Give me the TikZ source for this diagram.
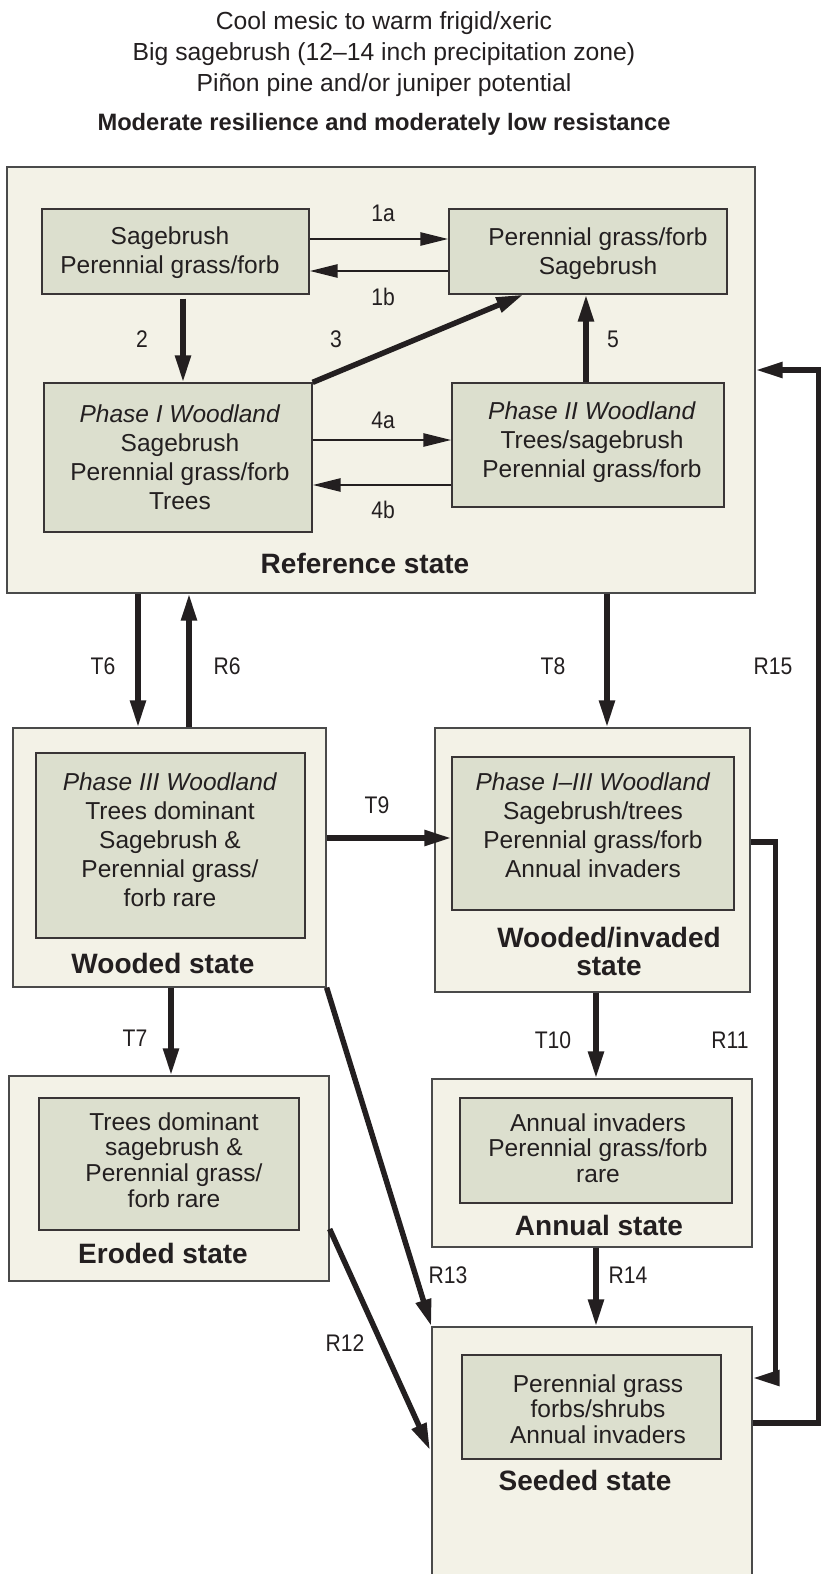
\documentclass[tikz,border=0pt]{standalone}
\usepackage{fontspec}
\setmainfont{Liberation Sans}
\newfontfamily\lblfont{Liberation Sans}[FakeStretch=0.88]
\usetikzlibrary{arrows.meta}
\definecolor{outerfill}{HTML}{F3F2E7}
\definecolor{innerfill}{HTML}{DCDFCE}
\definecolor{ink}{HTML}{231F20}
\definecolor{edge}{HTML}{4A4A4A}
\begin{document}
\begin{tikzpicture}[x=1pt,y=-1pt,
  outerbox/.style={draw=edge, line width=1.3pt, fill=outerfill, inner sep=0pt, rectangle},
  innerbox/.style={draw=ink!90, line width=1.3pt, fill=innerfill, inner sep=0pt, rectangle},
  txt/.style={align=center, inner sep=0pt, text=ink, font=\fontsize{24.5}{29}\selectfont},
  txtb/.style={align=center, inner sep=0pt, text=ink, font=\fontsize{24.5}{25.6}\selectfont},
  statelbl/.style={align=center, inner sep=0pt, text=ink, font=\fontsize{28}{28}\bfseries\selectfont},
  lbl/.style={inner sep=0pt, text=ink, font=\lblfont\fontsize{24}{26}\selectfont},
  ttl/.style={inner sep=0pt, text=ink, anchor=base, font=\fontsize{24.7}{31}\selectfont},
  thickarr/.style={line width=5.5pt, draw=ink, -{Triangle[length=27pt,width=15pt]}},
  thinarr/.style={line width=2.6pt, draw=ink, -{Triangle[length=28pt,width=13pt]}},
]
\useasboundingbox (0,0) rectangle (823,1574);

% title
\node[ttl] (t1) at (384,29) {Cool mesic to warm frigid/xeric};
\node[ttl] (t2) at (384,60) {Big sagebrush (12–14 inch precipitation zone)};
\node[ttl] (t3) at (384,91) {Piñon pine and/or juniper potential};
\node[ttl, font=\fontsize{23.7}{31}\bfseries\selectfont] (t4) at (384,130) {Moderate resilience and moderately low resistance};

% outer state boxes
\node[outerbox, minimum width=748pt, minimum height=426pt] (ref) at (381,380) {};
\node[outerbox, minimum width=313pt, minimum height=259pt] (wood) at (169.5,857.5) {};
\node[outerbox, minimum width=315pt, minimum height=264pt] (winv) at (592.5,860) {};
\node[outerbox, minimum width=320pt, minimum height=205pt] (eroded) at (169,1178.5) {};
\node[outerbox, minimum width=320pt, minimum height=168pt] (annual) at (592,1163) {};
\node[outerbox, minimum width=320pt, minimum height=263pt] (seeded) at (592,1458.5) {};

% inner phase boxes
\node[innerbox, minimum width=267pt, minimum height=85pt] (A) at (175.5,251.5) {};
\node[innerbox, minimum width=278pt, minimum height=85pt] (B) at (588,251.5) {};
\node[innerbox, minimum width=268pt, minimum height=149pt] (C) at (178,457.5) {};
\node[innerbox, minimum width=272pt, minimum height=124pt] (D) at (588,445) {};
\node[innerbox, minimum width=269pt, minimum height=185pt] (woodin) at (170.5,845.5) {};
\node[innerbox, minimum width=282pt, minimum height=153pt] (winvin) at (593,833.5) {};
\node[innerbox, minimum width=260pt, minimum height=132pt] (erodedin) at (169,1164) {};
\node[innerbox, minimum width=272pt, minimum height=105pt] (annualin) at (596,1150.5) {};
\node[innerbox, minimum width=259pt, minimum height=104pt] (seededin) at (591.5,1407) {};

% texts
\node[txt] (Atxt) at (170,252.5) {Sagebrush\\Perennial grass/forb};
\node[txt] (Btxt) at (598,254) {Perennial grass/forb\\Sagebrush};
\node[txt] (Ctxt) at (180,457) {\textit{Phase I Woodland}\\Sagebrush\\Perennial grass/forb\\Trees};
\node[txt] (Dtxt) at (592,442) {\textit{Phase II Woodland}\\Trees/sagebrush\\Perennial grass/forb};
\node[statelbl] (refl) at (365,563) {Reference state};

\node[txt] (woodtxt) at (170,840) {\textit{Phase III Woodland}\\Trees dominant\\Sagebrush \&\\Perennial grass/\\forb rare};
\node[statelbl] (woodl) at (163,963) {Wooded state};

\node[txt] (winvtxt) at (593,825.5) {\textit{Phase I–III Woodland}\\Sagebrush/trees\\Perennial grass/forb\\Annual invaders};
\node[statelbl] (winvl) at (609,951) {Wooded/invaded\\state};

\node[txtb] (erodedtxt) at (174,1160) {Trees dominant\\sagebrush \&\\Perennial grass/\\forb rare};
\node[statelbl] (erodedl) at (163,1253) {Eroded state};

\node[txtb] (annualtxt) at (598,1148) {Annual invaders\\Perennial grass/forb\\rare};
\node[statelbl] (annuall) at (599,1225) {Annual state};

\node[txtb] (seededtxt) at (598,1409) {Perennial grass\\forbs/shrubs\\Annual invaders};
\node[statelbl] (seededl) at (585,1480) {Seeded state};

% arrows inside reference state
\draw[thinarr] ([yshift=12.5pt]A.east) -- ([yshift=12.5pt]B.west);
\draw[thinarr] ([yshift=-19.5pt]B.west) -- ([yshift=-19.5pt]A.east);
\draw[thickarr, shorten <=4pt] ([xshift=7.5pt]A.south) -- ([xshift=5pt]C.north);
\draw[thickarr] (C.north east) -- ([xshift=75pt]B.south west);
\draw[thinarr] ([yshift=17.5pt]C.east) -- ([yshift=5pt]D.west);
\draw[thinarr] ([yshift=-40pt]D.west) -- ([yshift=-27.5pt]C.east);
\draw[thickarr] ([xshift=-2pt]D.north) -- ([xshift=-2pt]B.south);

\node[lbl] (l1a) at (383,213) {1a};
\node[lbl] (l1b) at (383,297) {1b};
\node[lbl] (l2) at (142,339) {2};
\node[lbl] (l3) at (336,339) {3};
\node[lbl] (l4a) at (383,420) {4a};
\node[lbl] (l4b) at (383,510) {4b};
\node[lbl] (l5) at (613,339) {5};

% transitions
\draw[thickarr] ([xshift=-243pt]ref.south) -- ([xshift=-31.5pt]wood.north);
\draw[thickarr] ([xshift=19.5pt]wood.north) -- ([xshift=-192pt]ref.south);
\draw[thickarr] ([xshift=226pt]ref.south) -- ([xshift=14.5pt]winv.north);
\draw[thickarr] ([yshift=19.5pt]wood.east) -- ([yshift=-4.5pt]winvin.west);
\draw[thickarr] ([xshift=1.5pt]wood.south) -- ([xshift=2pt]eroded.north);
\draw[thickarr] ([xshift=3.5pt]winv.south) -- ([xshift=4pt]annual.north);
\draw[thickarr] ([xshift=4pt]annual.south) -- ([xshift=4pt]seeded.north);
\draw[thickarr] (wood.south east) -- (seeded.north west);
\draw[thickarr, shorten >=3pt] ([yshift=-50.5pt]eroded.east) -- ([yshift=5.5pt]seeded.west);
\draw[thickarr, miter limit=10] ([yshift=18pt]winv.east) -- ++(25,0) |- ([yshift=80.5pt]seeded.east);
\draw[thickarr, miter limit=10] ([yshift=35.5pt]seeded.east) -- ++(66,0) |- ([yshift=10pt]ref.east);

\node[lbl] (lT6) at (103,666) {T6};
\node[lbl] (lR6) at (227,666) {R6};
\node[lbl] (lT8) at (553,666) {T8};
\node[lbl] (lR15) at (773,666) {R15};
\node[lbl] (lT9) at (377,805) {T9};
\node[lbl] (lT7) at (135,1038) {T7};
\node[lbl] (lT10) at (553,1040) {T10};
\node[lbl] (lR11) at (730,1040) {R11};
\node[lbl] (lR13) at (448,1275) {R13};
\node[lbl] (lR14) at (628,1275) {R14};
\node[lbl] (lR12) at (345,1343) {R12};
\end{tikzpicture}
\end{document}
